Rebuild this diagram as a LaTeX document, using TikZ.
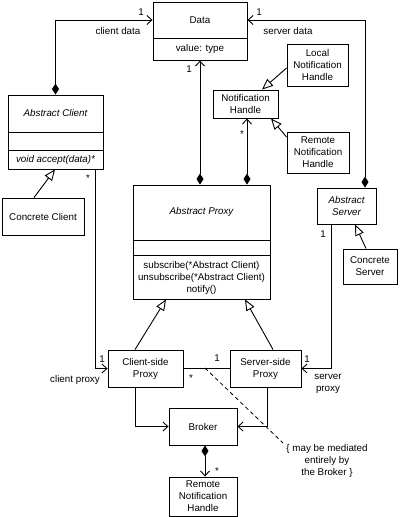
\documentclass[tikz,border=0pt]{standalone}
\usepackage{fontspec}
\setmainfont{Liberation Sans}
\usetikzlibrary{arrows.meta}
\begin{document}
\begin{tikzpicture}[x=1pt,y=-1pt,
  every node/.style={font=\fontsize{9.8}{12}\selectfont},
  box/.style={draw, line width=0.9pt, rectangle, inner sep=0pt, align=center},
  conn/.style={line width=0.9pt},
  lbl/.style={inner sep=0pt, align=center},
  nav/.style={conn, -{Straight Barb[length=5pt,width=9pt]}},
  compnav/.style={conn, {Diamond[length=11pt,width=7pt]}-{Straight Barb[length=5pt,width=9pt]}},
  gen/.style={conn, -{Triangle[open,fill=white,length=11pt,width=9pt]}},
]
\useasboundingbox (0,0) rectangle (400,517);

% ---- boxes
\node[box, minimum width=94pt, minimum height=58pt] (data) at (200,31) {};
\draw[conn] (data.west |- 0,38) -- (data.east |- 0,38);
\node[lbl] (datat) at (200,20) {Data};
\node[lbl] (datav) at (200,49) {value: type};

\node[box, minimum width=95pt, minimum height=74pt] (ac) at (55.5,132) {};
\draw[conn] (ac.west |- 0,132) -- (ac.east |- 0,132);
\draw[conn] (ac.west |- 0,150) -- (ac.east |- 0,150);
\node[lbl] (act) at (55.5,113) {\itshape Abstract Client};
\node[lbl] (aco) at (55.5,160) {\itshape void accept(data)*};

\node[box, minimum width=82pt, minimum height=37pt] (cc) at (43,216.5) {Concrete Client};

\node[box, minimum width=65pt, minimum height=28pt] (nh) at (245.5,104) {Notification\\Handle};
\node[box, minimum width=61pt, minimum height=42pt] (lnh) at (317.5,65) {Local\\Notification\\Handle};
\node[box, minimum width=62pt, minimum height=41pt] (rnh) at (318,152.5) {Remote\\Notification\\Handle};

\node[box, minimum width=137pt, minimum height=114pt] (ap) at (201.5,242) {};
\draw[conn] (ap.west |- 0,240) -- (ap.east |- 0,240);
\draw[conn] (ap.west |- 0,255) -- (ap.east |- 0,255);
\node[lbl] (apt) at (201.5,212) {\itshape Abstract Proxy};
\node[lbl] (apo) at (201.5,277.5) {subscribe(*Abstract Client)\\unsubscribe(*Abstract Client)\\notify()};

\node[box, minimum width=59pt, minimum height=36pt] (as) at (346.5,206) {\itshape Abstract\\\itshape Server};
\node[box, minimum width=54pt, minimum height=35pt] (cs) at (370,266.5) {Concrete\\Server};

\node[box, minimum width=75pt, minimum height=37pt] (csp) at (145.5,368.5) {Client-side\\Proxy};
\node[box, minimum width=71pt, minimum height=37pt] (ssp) at (265.5,368.5) {Server-side\\Proxy};
\node[box, minimum width=68pt, minimum height=37pt] (broker) at (203,426.5) {Broker};
\node[box, minimum width=68pt, minimum height=39pt] (rnhb) at (203,496.5) {Remote\\Notification\\Handle};

% ---- associations
\draw[compnav] (ac.north) |- (data.west |- 0,20);
\draw[compnav] (as.north -| 365,0) |- (data.east |- 0,20);
\draw[compnav] (ap.north -| 200,0) -- (data.south -| 200,0);
\draw[compnav] (ap.north -| 247,0) -- (nh.south -| 247,0);
\draw[nav] (ac.south -| 95,0) |- (csp.west);
\draw[nav] (as.south -| 331,0) |- (ssp.east);
\draw[conn] (csp.east) -- (ssp.west);
\draw[nav] (csp.south -| 135,0) |- (broker.west);
\draw[nav] (ssp.south -| 267,0) |- (broker.east);
\draw[compnav] (broker.south -| 205,0) -- (rnhb.north -| 205,0);

% ---- generalizations
\draw[gen] (cc.north -| 34,0) -- (ac.south -| 55,0);
\draw[gen] (lnh.west |- 0,68) -- (nh.north -| 262,0);
\draw[gen] (rnh.west |- 0,137) -- (nh.south -| 271,0);
\draw[gen] (cs.north -| 366,0) -- (as.south -| 355,0);
\draw[gen] (csp.north -| 135,0) -- (ap.south -| 166,0);
\draw[gen] (ssp.north -| 273,0) -- (ap.south -| 245,0);

% ---- note
\coordinate (dstart) at (205,368);
\coordinate (dend) at (283,443);
\draw[line width=0.8pt, dash pattern=on 4pt off 3pt] (dstart) -- (dend);
\node[lbl] (note) at (327,461) {\{ may be mediated\\entirely by\\the Broker \}};

% ---- labels
\node[lbl] (l1) at (141,12) {1};
\node[lbl] (l2) at (118,31) {client data};
\node[lbl] (l3) at (259,12) {1};
\node[lbl] (l4) at (288,31) {server data};
\node[lbl] (l5) at (189,69) {1};
\node[lbl] (l6) at (242,134) {*};
\node[lbl] (l7) at (88,178) {*};
\node[lbl] (l8) at (102,359) {1};
\node[lbl] (l9) at (75,380) {client proxy};
\node[lbl] (l10) at (191,378) {*};
\node[lbl] (l11) at (217,358) {1};
\node[lbl] (l12) at (307,359) {1};
\node[lbl] (l13) at (328,383.5) {server\\proxy};
\node[lbl] (l14) at (323,234) {1};
\node[lbl] (l15) at (217,471) {*};
\end{tikzpicture}
\end{document}
